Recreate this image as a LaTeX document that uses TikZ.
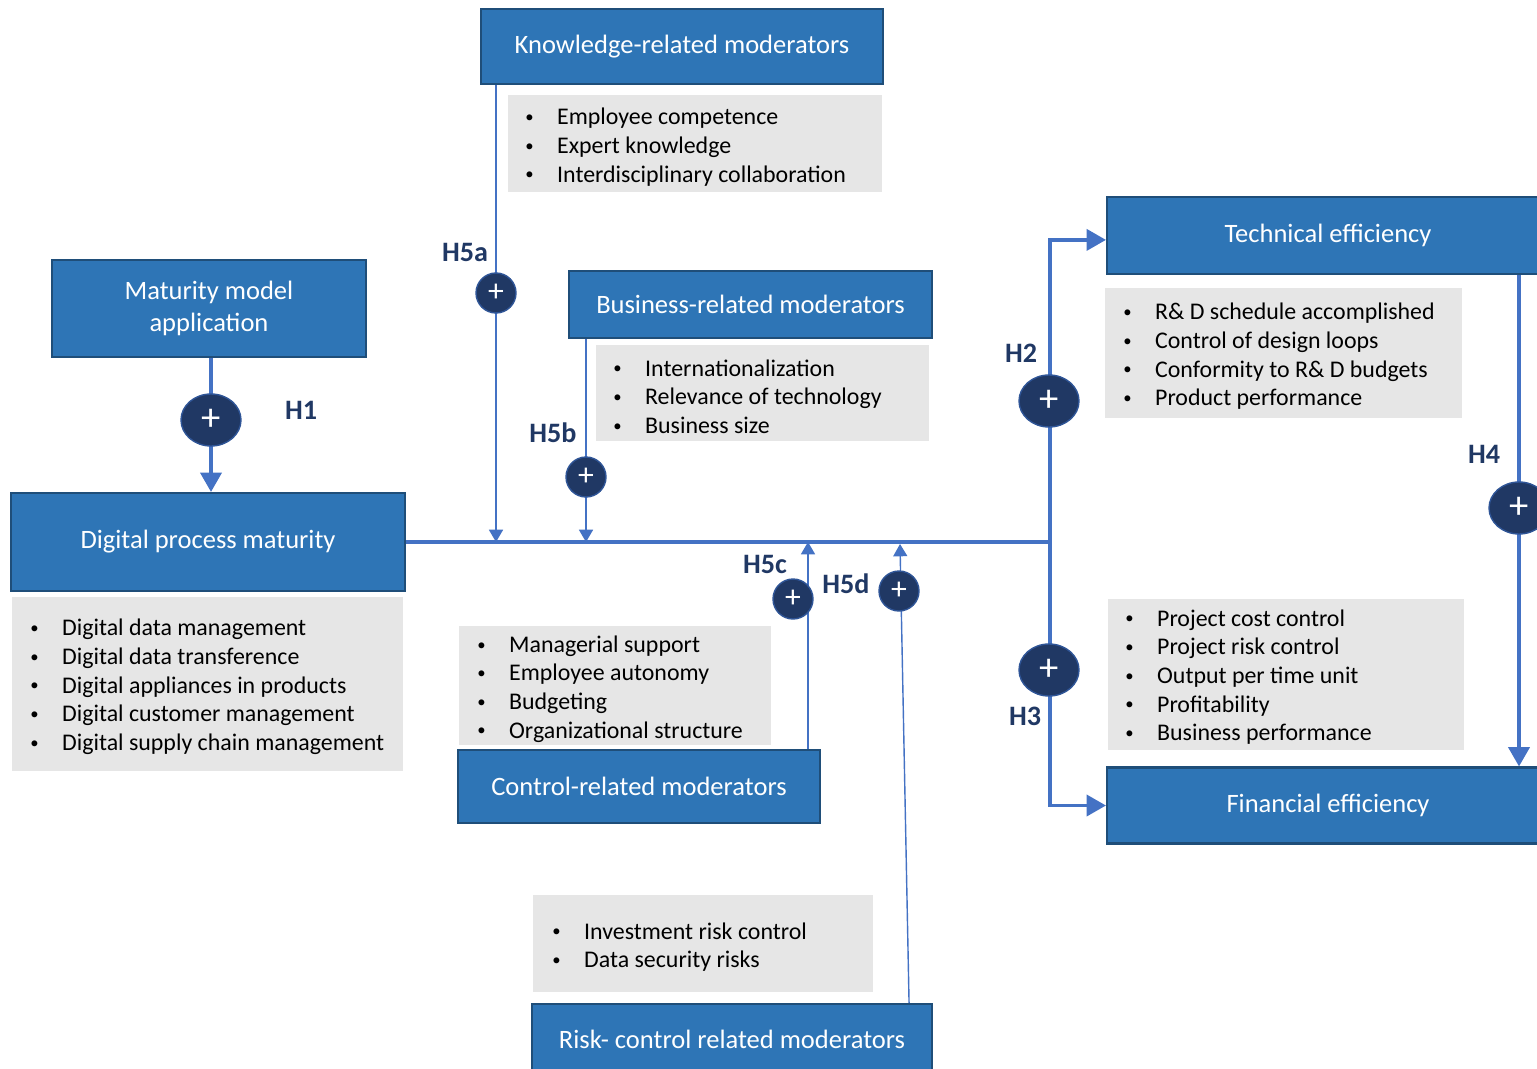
\documentclass[tikz,border=0pt]{standalone}
\usepackage{fontspec}
\setmainfont{Carlito}
\usetikzlibrary{arrows.meta,shapes.geometric,calc}
\definecolor{boxblue}{HTML}{2E75B6}
\definecolor{boxedge}{HTML}{1F4E79}
\definecolor{linkblue}{HTML}{4472C4}
\definecolor{navy}{HTML}{203864}
\definecolor{navyedge}{HTML}{2F5597}
\definecolor{listgray}{HTML}{E6E6E6}
\newcommand\bl{\makebox[18.1pt][l]{\raisebox{1.3pt}{\fontsize{9.5}{9.5}\selectfont\textbullet}}}
\pgfdeclarelayer{bg}
\pgfsetlayers{bg,main}
\begin{document}
\begin{tikzpicture}[x=0.02cm,y=-0.02cm,
  mainbox/.style={draw=boxedge,line width=1.2pt,fill=boxblue,text=white,
    font=\fontsize{15.1}{18.2}\selectfont,align=center,inner sep=0pt},
  listtext/.style={anchor=west,align=left,inner sep=0pt,
    font=\fontsize{13.6}{16.3}\selectfont,text=black},
  plusbig/.style={ellipse,fill=navy,draw=navyedge,line width=0.8pt,
    minimum width=60*0.02cm,minimum height=52*0.02cm,text=white,
    font=\fontsize{22}{22}\selectfont,inner sep=0pt},
  plussmall/.style={circle,fill=navy,draw=navyedge,line width=0.8pt,
    minimum size=40*0.02cm,text=white,
    font=\fontsize{18}{18}\selectfont,inner sep=0pt},
  hlabel/.style={text=navy,font=\fontsize{16}{18}\selectfont\bfseries,inner sep=0pt},
  thickline/.style={linkblue,line width=2pt},
  thickarrow/.style={linkblue,line width=2pt,-{Triangle[length=11pt,width=12pt]}},
  thinarrow/.style={linkblue,line width=0.8pt,-{Triangle[length=7pt,width=8pt]}},
]
\useasboundingbox (0,0) rectangle (1537,1068);

% main boxes
\node[mainbox,minimum width=402*0.02cm,minimum height=75*0.02cm] (know) at (682,46.5) {Knowledge-related moderators};
\node[mainbox,minimum width=314*0.02cm,minimum height=97*0.02cm] (mat) at (209,308.5) {Maturity model\\application};
\node[mainbox,minimum width=363*0.02cm,minimum height=67*0.02cm] (bus) at (750.5,304.5) {Business-related moderators};
\node[mainbox,minimum width=394*0.02cm,minimum height=98*0.02cm] (dig) at (208,542) {Digital process maturity};
\node[mainbox,minimum width=362*0.02cm,minimum height=73*0.02cm] (ctrl) at (639,786.5) {Control-related moderators};
\node[mainbox,minimum width=400*0.02cm,minimum height=70*0.02cm] (risk) at (732,1039) {Risk- control related moderators};
\node[mainbox,minimum width=442*0.02cm,minimum height=77*0.02cm] (tech) at (1328,235.5) {Technical efficiency};
\node[mainbox,minimum width=442*0.02cm,minimum height=76*0.02cm] (fin) at (1328,805.5) {Financial efficiency};

% gray lists
\fill[listgray] (508,95) rectangle (882,192);
\node[listtext] (knowlist) at (525,147) {\bl Employee competence\\ \bl Expert knowledge\\ \bl Interdisciplinary collaboration};
\fill[listgray] (596,345) rectangle (929,441);
\node[listtext] (buslist) at (613,396.5) {\bl Internationalization\\ \bl Relevance of technology\\ \bl Business size};
\fill[listgray] (12,597) rectangle (403,771);
\node[listtext] (diglist) at (30,687) {\bl Digital data management\\ \bl Digital data transference\\ \bl Digital appliances in products\\ \bl Digital customer management\\ \bl Digital supply chain management};
\fill[listgray] (459,626) rectangle (771,745);
\node[listtext] (ctrllist) at (477,689) {\bl Managerial support\\ \bl Employee autonomy\\ \bl Budgeting\\ \bl Organizational structure};
\fill[listgray] (533,895) rectangle (873,992);
\node[listtext] (risklist) at (552,947) {\bl Investment risk control\\ \bl Data security risks};
\fill[listgray] (1105,288) rectangle (1462,418);
\node[listtext] (techlist) at (1123,356.5) {\bl R\& D schedule accomplished\\ \bl Control of design loops\\ \bl Conformity to R\& D budgets\\ \bl Product performance};
\fill[listgray] (1108,599) rectangle (1464,750);
\node[listtext] (finlist) at (1125,677) {\bl Project cost control\\ \bl Project risk control\\ \bl Output per time unit\\ \bl Profitability\\ \bl Business performance};

% coordinates
\coordinate (J) at (1050,542);
\coordinate (x5a) at (496,293);
\coordinate (x5b) at (586,477);
\coordinate (x5c) at (808,600);
\coordinate (t4) at (1519,265);
\coordinate (d5top) at (900,544);

% plus circles
\node[plusbig] (p1) at (211,420) {+};
\node[plusbig] (p2) at (1049,401) {+};
\node[plusbig] (p3) at (1049,670) {+};
\node[plusbig] (p4) at (1519,508) {+};
\node[plussmall] (p5a) at (496,293) {+};
\node[plussmall] (p5b) at (586,477) {+};
\node[plussmall] (p5c) at (793,599) {+};
\node[plussmall] (p5d) at (899,591) {+};

% connectors
\begin{pgfonlayer}{bg}
\draw[thickarrow] (mat.south -| p1) -- (dig.north -| p1);
\draw[thickline] (dig.east) -- (J);
\draw[thickarrow] (J) |- ([yshift=-2.5pt]tech.west);
\draw[thickarrow] (J) |- (fin.west);
\draw[thickarrow] (t4) -- (fin.north -| t4);
\draw[thinarrow] (know.south -| x5a) -- (J -| x5a);
\draw[thinarrow] (bus.south -| x5b) -- (J -| x5b);
\draw[thinarrow] (ctrl.north -| x5c) -- (J -| x5c);
\draw[thinarrow] ($(risk.north east)+(-24,0)$) -- (d5top);
\end{pgfonlayer}

% labels
\node[hlabel] (lH1) at (301,410) {H1};
\node[hlabel] (lH2) at (1021,353) {H2};
\node[hlabel] (lH3) at (1025,716) {H3};
\node[hlabel] (lH4) at (1484,454) {H4};
\node[hlabel] (lH5a) at (465,252) {H5a};
\node[hlabel] (lH5b) at (553,433) {H5b};
\node[hlabel] (lH5c) at (765,564) {H5c};
\node[hlabel] (lH5d) at (846,584) {H5d};
\end{tikzpicture}
\end{document}
